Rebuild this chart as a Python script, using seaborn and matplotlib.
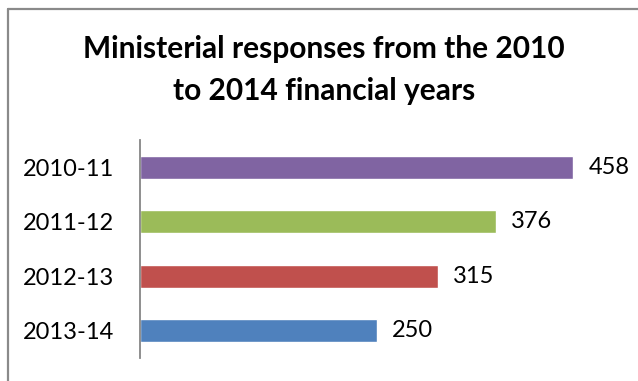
import matplotlib
matplotlib.use("Agg")
import matplotlib.pyplot as plt
from matplotlib.lines import Line2D
import seaborn as sns
import pandas as pd

categories = ["2010-11", "2011-12", "2012-13", "2013-14"]
values = [458, 376, 315, 250]
colors = ["#8064A2", "#9BBB59", "#C0504D", "#4F81BD"]
title = "Ministerial responses from the 2010\nto 2014 financial years"

sns.set_theme(style="white")
plt.rcParams["font.family"] = ["Lato", "DejaVu Sans"]

W, H = 638, 381
fig = plt.figure(figsize=(W / 100, H / 100), dpi=100)
ax = fig.add_axes([140 / W, 1 - 358 / H, (613 - 140) / W, (358 - 140) / H])

df = pd.DataFrame({"year": categories, "value": values})
sns.barplot(data=df, x="value", y="year", hue="year", palette=colors,
            legend=False, orient="h", width=0.42, ax=ax, saturation=1)

ax.set_xlim(0, 500)
ax.set_ylim(3.5, -0.5)
ax.set_xlabel("")
ax.set_ylabel("")
ax.set_xticks([])
for s in ["top", "right", "bottom"]:
    ax.spines[s].set_visible(False)
ax.spines["left"].set_color("#868686")
ax.spines["left"].set_linewidth(1.3)
ax.tick_params(axis="y", length=0, pad=18.5, labelsize=17, labelcolor="black")

for cont in ax.containers:
    ax.bar_label(cont, labels=[str(v) for v in cont.datavalues.astype(int)],
                 padding=11, fontsize=17, color="black")

fig.text(324 / W, 1 - 35 / H, title, ha="center", va="top",
         fontsize=21.5, fontweight="bold", linespacing=1.6, color="black")

# chart frame (top and left edges visible)
fig.add_artist(Line2D([8 / W, 1], [1 - 9 / H, 1 - 9 / H], transform=fig.transFigure,
                      color="#8a8a8a", linewidth=1.6))
fig.add_artist(Line2D([8 / W, 8 / W], [0, 1 - 9 / H], transform=fig.transFigure,
                      color="#8a8a8a", linewidth=1.6))

fig.savefig("out.png", dpi=100, facecolor="white")
